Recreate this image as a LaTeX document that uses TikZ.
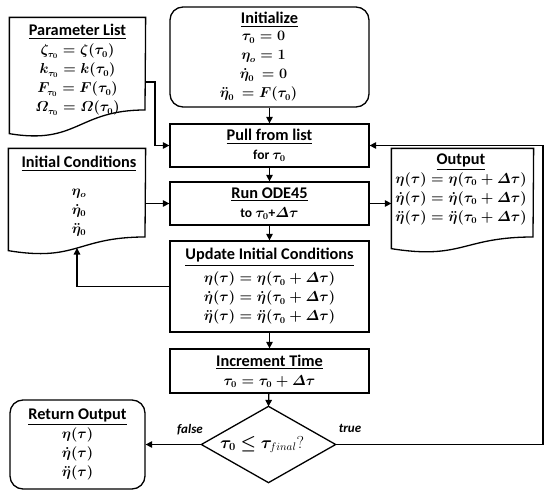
\documentclass[tikz,border=0pt]{standalone}
\usepackage{amsmath}
\usepackage{bm}
\usepackage{fontspec}
\setmainfont{Carlito}
\usetikzlibrary{arrows.meta}
\newcommand{\boxtitle}[1]{{\fontsize{16.3}{18}\selectfont\underline{#1}}}
\begin{document}
\begin{tikzpicture}[x=1pt,y=-1pt,line width=1.3pt,
  box/.style={draw,rectangle,inner sep=0pt,align=center,minimum width=199pt,
    font=\fontsize{13.5}{19}\selectfont\bfseries\boldmath},
  rbox/.style={box,rounded corners=13pt},
  doc/.style={draw=none,rectangle,inner sep=0pt},
  doctext/.style={align=center,inner sep=0pt,font=\fontsize{13.5}{19}\selectfont\bfseries\boldmath},
  dectext/.style={inner sep=0pt,font=\fontsize{16}{18}\selectfont},
  arr/.style={-{Triangle[length=6.5pt,width=6.5pt]},line width=1.3pt},
  lbl/.style={inner sep=0pt,font=\fontsize{13}{15}\selectfont\bfseries\itshape}]
\useasboundingbox (0,0) rectangle (550,498);

% Parameter list (document shape)
\node[doc,minimum width=135pt,minimum height=115pt] (plist) at (77.5,75.5) {};
\draw (plist.south west) -- (plist.north west) -- (plist.north east) -- (145,110)
  .. controls (77.5,110) and (77.5,145) .. (plist.south west) -- cycle;
\node[doctext] (plistt) at (77.5,70) {\boxtitle{Parameter List}\\
  $\zeta_{\tau_0}=\zeta(\tau_0)$\\ $k_{\tau_0}=k(\tau_0)$\\
  $F_{\tau_0}=F(\tau_0)$\\ $\varOmega_{\tau_0}=\varOmega(\tau_0)$};
\coordinate (plout) at (145,82);

% Initialize
\node[rbox,minimum height=100pt] (init) at (269.5,57) {\boxtitle{Initialize}\\[-2pt]
  \hspace*{-12pt}$\tau_0=0$\\ \hspace*{-12pt}$\eta_o=1$\\ \hspace*{-12pt}$\dot\eta_0\ =0$\\ \hspace*{-22pt}$\ddot\eta_0\ =F(\tau_0)$};

% Pull from list
\node[box,minimum height=43pt] (pull) at (269.5,145.5) {\boxtitle{Pull from list}\\ for $\tau_0$};

% Initial conditions (document shape)
\node[doc,minimum width=136pt,minimum height=101pt] (ic) at (77,199.5) {};
\draw (ic.south west) -- (ic.north west) -- (ic.north east) -- (145,237)
  .. controls (77,237) and (77,262) .. (ic.south west) -- cycle;
\node[doctext] (ict) at (79,196) {\boxtitle{Initial Conditions}\\[9pt]
  $\eta_o$\\ $\dot\eta_0$\\ $\ddot\eta_0$};
\coordinate (icout) at (145,203.5);
\coordinate (icin) at (77,248);

% Run ODE45
\node[box,minimum height=43pt] (run) at (269.5,203.5) {\boxtitle{Run ODE45}\\ to $\tau_0$+$\varDelta\tau$};

% Output (document shape)
\node[doc,minimum width=141pt,minimum height=99pt] (outd) at (462.5,198.5) {};
\draw (outd.south west) -- (outd.north west) -- (outd.north east) -- (533,237)
  .. controls (462.5,237) and (462.5,260) .. (outd.south west) -- cycle;
\node[doctext] (outt) at (461,189) {\boxtitle{Output}\\
  $\eta(\tau)=\eta(\tau_0+\varDelta\tau)$\\ $\dot\eta(\tau)=\dot\eta(\tau_0+\varDelta\tau)$\\
  $\ddot\eta(\tau)=\ddot\eta(\tau_0+\varDelta\tau)$};

% Update initial conditions
\node[box,minimum height=91pt] (upd) at (269.5,286.5) {\boxtitle{Update Initial Conditions}\\[4pt]
  $\eta(\tau)=\eta(\tau_0+\varDelta\tau)$\\ $\dot\eta(\tau)=\dot\eta(\tau_0+\varDelta\tau)$\\
  $\ddot\eta(\tau)=\ddot\eta(\tau_0+\varDelta\tau)$};

% Increment time
\node[box,minimum height=44pt] (inc) at (269.5,371) {\boxtitle{Increment Time}\\ $\tau_0=\tau_0+\varDelta\tau$};

% Decision
\node[doc,minimum width=133pt,minimum height=75pt] (dec) at (268.5,444.5) {};
\draw (dec.north) -- (dec.east) -- (dec.south) -- (dec.west) -- cycle;
\node[dectext] (dect) at (262,444.5) {$\bm{\tau_0\le\tau}_{final}?$};

% Return output
\node[rbox,minimum width=135pt,minimum height=89pt] (ret) at (77.5,444.5) {\boxtitle{Return Output}\\
  $\eta(\tau)$\\ $\dot\eta(\tau)$\\ $\ddot\eta(\tau)$};

% Connectors
\draw[arr] (init) -- (pull);
\draw[arr] (pull) -- (run);
\draw[arr] (run) -- (upd);
\draw[arr] (upd) -- (inc);
\draw[arr] (inc) -- (dec.north);
\draw[arr] (plout) -- ++(10,0) |- (pull.west);
\draw[arr] (icout) -- (run.west);
\draw[arr] (run.east) -- (outd.west |- run.east);
\draw[arr] (upd.west) -| (icin);
\coordinate (looprt) at (543,145.5);
\draw[arr] (dec.east) -| (looprt) -- (pull.east);
\draw[arr] (dec.west) -- (ret.east);
\node[lbl] (fl) at (190,430) {false};
\node[lbl] (tl) at (350,428) {true};
\end{tikzpicture}
\end{document}
